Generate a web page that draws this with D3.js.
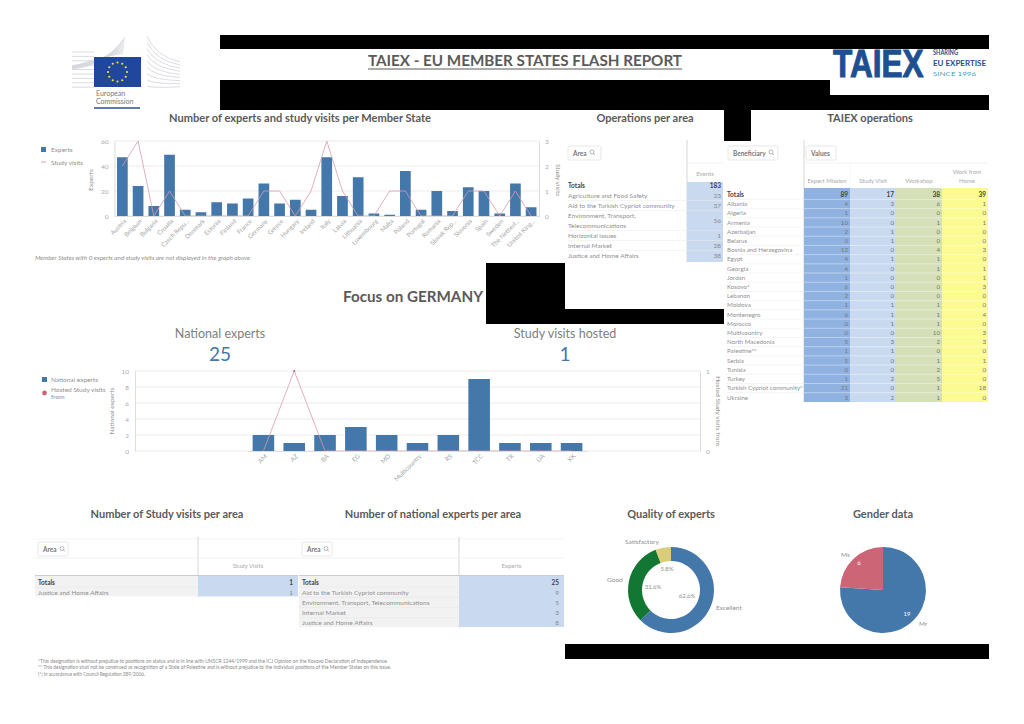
<!DOCTYPE html>
<html><head><meta charset="utf-8">
<script src="https://cdn.jsdelivr.net/npm/d3@7"></script>
<style>html,body{margin:0;background:#fff}svg{display:block}text{font-family:Lato,"Noto Sans",sans-serif}</style>
</head><body><svg id="c" width="1024" height="724"></svg>
<script>
const states=["Austria","Belgium","Bulgaria","Croatia","Czech Repu...","Denmark","Estonia","Finland","France","Germany","Greece","Hungary","Ireland","Italy","Latvia","Lithuania","Luxembourg","Malta","Poland","Portugal","Romania","Slovak Rep...","Slovenia","Spain","Sweden","The Netherl...","United King..."];
const experts=[47,24,8,49,5,3,11,10,14,26,10,13,5,47,16,31,2,1,36,5,20,4,23,20,2,26,7];
const studyVisits=[2,3,0,1,0,0,0,0,0,1,1,0,1,3,1,0,0,1,1,0,0,0,1,1,0,1,0];
const natCodes=["AM","AZ","BA","EG","MD","Multicountry","RS","TCC","TR","UA","XK"];
const natExperts=[2,1,2,3,2,1,2,9,1,1,1];
const natHosted=[0,1,0,0,0,0,0,0,0,0,0];
const areaRows=["Agriculture and Food Safety","Aid to the Turkish Cypriot community",["Environment, Transport,","Telecommunications"],"Horizontal issues","Internal Market","Justice and Home Affairs"];
const areaEvents=[23,37,56,1,28,38];
const beneficiaries=["Albania","Algeria","Armenia","Azerbaijan","Belarus","Bosnia and Herzegovina","Egypt","Georgia","Jordan","Kosovo*","Lebanon","Moldova","Montenegro","Morocco","Multicountry","North Macedonia","Palestine**","Serbia","Tunisia","Turkey","Turkish Cypriot community*","Ukraine"];
const expertMission=[4,1,10,2,0,12,4,4,1,6,2,1,6,0,0,5,1,5,0,1,21,3];
const studyVisit=[3,0,0,1,1,0,1,0,0,0,0,1,1,1,0,3,1,0,0,2,0,2];
const workshop=[6,0,1,0,0,4,1,1,0,0,0,1,1,1,10,2,0,1,2,5,1,1];
const workFromHome=[1,0,1,0,0,3,0,1,1,3,0,0,4,0,3,3,0,1,0,0,18,0];
const opColumns=["Expert Mission","Study Visit","Workshop","Work from Home"];
const opTotals=[89,17,38,39];
const svAreas=["Justice and Home Affairs"];const svValues=[1];
const neAreas=["Aid to the Turkish Cypriot community","Environment, Transport, Telecommunications","Internal Market","Justice and Home Affairs"];const neValues=[9,5,3,8];
const qualityLabels=["Excellent","Good","Satisfactory"];const qualityValues=[62.6,31.6,5.8];
const genderLabels=["Mr","Ms"];const genderValues=[19,6];
const footnotes=["*This designation is without prejudice to positions on status and is in line with UNSCR 1244/1999 and the ICJ Opinion on the Kosovo Declaration of Independence.","** This designation shall not be construed as recognition of a State of Palestine and is without prejudice to the individual positions of the Member States on this issue.","(*) In accordance with Council Regulation 389/2006."];

const BLUE="#4477aa",PINK="#cc6677",LINE="#dd9aa8",TITLE="#5a5a5a",GREY="#8a8a8a",TXT="#909090";
const svg=d3.select("#c");
const T=(x,y,s,o={})=>{const t=svg.append("text").attr("x",x).attr("y",y).text(s).attr("font-size",o.size||6.5).attr("fill",o.fill||TXT).attr("text-anchor",o.anchor||"start");if(o.bold)t.attr("font-weight",o.bold===true?700:o.bold);if(o.italic)t.attr("font-style","italic");if(o.rotate!=null)t.attr("transform",`rotate(${o.rotate} ${x} ${y})`);if(o.len)t.attr("textLength",o.len).attr("lengthAdjust","spacingAndGlyphs");return t};
const R=(x,y,w,h,f)=>svg.append("rect").attr("x",x).attr("y",y).attr("width",w).attr("height",h).attr("fill",f);
const L=(x1,y1,x2,y2,c,w=0.6)=>svg.append("line").attr("x1",x1).attr("y1",y1).attr("x2",x2).attr("y2",y2).attr("stroke",c).attr("stroke-width",w);
const title=(x,y,s,len)=>T(x,y,s,{size:11,bold:true,fill:TITLE,anchor:"middle",len});

// header
T(368,66,"TAIEX - EU MEMBER STATES FLASH REPORT",{size:15,bold:true,fill:TITLE,len:314});
L(368,69,682,69,TITLE,1);
// EC logo
const wingRows=d3.range(9);
const wing=svg.append("g").attr("fill","none").attr("stroke","#d6d8dc").attr("stroke-width",0.9);
wingRows.forEach(i=>{
 wing.append("path").attr("d",`M72 ${52+i*4.4}H94`);
 wing.append("path").attr("d",`M72 ${69-i*0.3}Q105 ${66-i*1.2} ${125-i*0.2} ${37+i*2}`);
 wing.append("path").attr("d",`M147 ${36+i*6.3}Q155 ${56+i*4} 180 ${62+i*3.1}`);
});
R(94,57,47,30,"#20479b");
d3.range(12).forEach(i=>{const a=i*Math.PI/6;svg.append("circle").attr("cx",117.5+9.5*Math.cos(a)).attr("cy",72+9.5*Math.sin(a)).attr("r",1.1).attr("fill","#f2e33d")});
T(96,96,"European",{size:7,fill:"#777"});T(96,104,"Commission",{size:7,fill:"#777"});L(94,108,140,108,"#2f4e96",1.3);
// TAIEX logo
T(0,0,"TAIEX",{size:38,bold:700,fill:"#1d4f91"}).style("font-family","'Liberation Sans'").attr("stroke","#1d4f91").attr("stroke-width",1).attr("transform","translate(833,76.5) scale(0.83,1)");
T(933,55,"SHARING",{size:6.5,bold:true,fill:"#1d4f91",len:25});
T(933,65.5,"EU EXPERTISE",{size:6.5,bold:true,fill:"#1d4f91",len:53});
T(933,75.5,"SINCE 1996",{size:6.5,fill:"#4aa3b8",len:43});

// chart 1
title(300,122,"Number of experts and study visits per Member State",262);
const x1=d3.scaleBand().domain(states).range([114.5,539]).paddingInner(0.32).paddingOuter(0.16);
const y1=d3.scaleLinear().domain([0,60]).range([216,141]);
const y1r=d3.scaleLinear().domain([0,3]).range([216,141]);
function axes(x,yl,yr,lt,rt){
 const f=d3.format("d");
 const gl=svg.append("g").attr("transform",`translate(${x.range()[0]},0)`).call(d3.axisLeft(yl).tickValues(lt).tickFormat(f).tickSize(0).tickPadding(6));
 const gr=svg.append("g").attr("transform",`translate(${x.range()[1]},0)`).call(d3.axisRight(yr).tickValues(rt).tickFormat(f).tickSize(0).tickPadding(6));
 [gl,gr].forEach(g=>{g.select(".domain").attr("stroke","#ddd");g.selectAll("text").attr("fill","#aaa").attr("font-size",6.5).style("font-family","Lato")});
 svg.append("g").selectAll("line").data(lt).join("line").attr("x1",x.range()[0]).attr("x2",x.range()[1]).attr("y1",d=>yl(d)).attr("y2",d=>yl(d)).attr("stroke","#e3e3e8").attr("stroke-width",0.7);
}
function bottom(x,y0){
 const g=svg.append("g").attr("transform",`translate(0,${y0})`).call(d3.axisBottom(x).tickSize(0).tickPadding(5));
 g.select(".domain").attr("stroke","#ddd");
 g.selectAll("text").attr("fill","#a5a5a5").attr("font-size",6.2).style("font-family","Lato").attr("text-anchor","end").attr("dx","-1").attr("dy","2").attr("transform","rotate(-45)");
}
axes(x1,y1,y1r,[0,20,40,60],[0,1,2,3]);
svg.append("g").attr("fill",BLUE).selectAll("rect").data(experts).join("rect").attr("x",(d,i)=>x1(states[i])).attr("width",x1.bandwidth()).attr("y",d=>y1(d)).attr("height",d=>y1(0)-y1(d));
const l1=d3.line().x((d,i)=>x1(states[i])+x1.bandwidth()/2).y(d=>y1r(d));
svg.append("path").attr("d",l1(studyVisits)).attr("fill","none").attr("stroke",LINE).attr("stroke-width",0.8);
bottom(x1,216);
R(41,147,5,5,BLUE);T(51,152,"Experts");L(41,162,46,162,LINE,1);T(51,164.5,"Study visits");
T(93,180,"Experts",{rotate:-90,anchor:"middle",size:6.5});T(556,180,"Study visits",{rotate:90,anchor:"middle",size:6.5});
T(35,260,"Member States with 0 experts and study visits are not displayed in the graph above",{size:5.5,italic:true,len:215});

// Focus
T(343,302,"Focus on GERMANY",{size:14.5,bold:true,fill:TITLE,len:140});
T(220,338,"National experts",{size:12.5,anchor:"middle",fill:"#808080"});T(220,361,"25",{size:19,anchor:"middle",fill:BLUE});
T(565,338,"Study visits hosted",{size:12.5,anchor:"middle",fill:"#808080"});T(565,361,"1",{size:19,anchor:"middle",fill:BLUE});
const x2frame=d3.scaleLinear().range([135,700]);
const x2=d3.scaleBand().domain(natCodes).range([248,587]).paddingInner(0.3).paddingOuter(0.15);
const y2=d3.scaleLinear().domain([0,10]).range([451,371]);const y2r=d3.scaleLinear().domain([0,1]).range([451,371]);
axes(x2frame,y2,y2r,[0,2,4,6,8,10],[0,1]);
svg.append("g").attr("fill",BLUE).selectAll("rect").data(natExperts).join("rect").attr("x",(d,i)=>x2(natCodes[i])).attr("width",x2.bandwidth()).attr("y",d=>y2(d)).attr("height",d=>y2(0)-y2(d));
const xc=i=>x2(natCodes[i])+x2.bandwidth()/2;
svg.append("path").attr("d",d3.line().x((d,i)=>xc(i)).y(d=>y2r(d))(natHosted)).attr("fill","none").attr("stroke",LINE).attr("stroke-width",0.8);
svg.append("g").selectAll("circle").data(natHosted).join("circle").attr("cx",(d,i)=>xc(i)).attr("cy",d=>y2r(d)).attr("r",1.1).attr("fill",PINK);
bottom(x2,451);
R(42,377,5,5,BLUE);T(51,382,"National experts");
svg.append("circle").attr("cx",44.5).attr("cy",393).attr("r",2.4).attr("fill",PINK);
T(51,392,"Hosted Study visits");T(51,399,"from");
T(114,411,"National experts",{rotate:-90,anchor:"middle"});T(716,411,"Hosted Study visits from",{rotate:90,anchor:"middle"});

// table helpers
const btn=(x,y,w,s)=>{svg.append("rect").attr("x",x).attr("y",y).attr("width",w).attr("height",14).attr("rx",1.5).attr("fill","#fff").attr("stroke","#ddd").attr("stroke-width",0.7);T(x+5,y+9.5,s,{size:6.5,bold:true,fill:"#777"})};
const glass=(x,y)=>{svg.append("circle").attr("cx",x).attr("cy",y).attr("r",2).attr("fill","none").attr("stroke","#888").attr("stroke-width",0.6);L(x+1.4,y+1.4,x+3,y+3,"#888",0.6)};

// Operations per area
title(645,122,"Operations per area");
btn(568,146,33,"Area");glass(592,152);
L(687,140,687,262,"#ccc",0.8);L(687,163,723,163,"#eee",0.8);T(705,176,"Events",{anchor:"middle",size:6,fill:"#aaa"});
R(687,182,36,80,"#c9daf0");
T(568,188,"Totals",{bold:true,fill:"#444"});T(721,188,d3.sum(areaEvents),{bold:true,fill:"#444",anchor:"end"});
let ay=198;
areaRows.forEach((r,i)=>{const two=Array.isArray(r);
 if(two){T(568,ay,r[0]);T(568,ay+10,r[1])}else T(568,ay,r);
 T(721,two?ay+5:ay,areaEvents[i],{anchor:"end",fill:"#888"});
 const nxt=ay+(two?20:10);if(i<areaRows.length-1)L(568,nxt-7.5,723,nxt-7.5,"#e8e8e8",0.5);ay=nxt});

// TAIEX operations
title(870,122,"TAIEX operations");
btn(728,146,50,"Beneficiary");glass(771,152);btn(806,146,30,"Values");
L(804,140,804,402,"#ccc",0.8);L(804,163,988,163,"#eee",0.8);L(850,163,850,188,"#eee",0.6);
const colX=d3.scaleBand().domain(opColumns).range([804,988]);
const colFill=["#8fb2e0","#c9daf0","#d5e0b8","#fbfb92"];
const colData=[expertMission,studyVisit,workshop,workFromHome];
const rowY=d3.scalePoint().domain(["Totals",...beneficiaries]).range([197,399.5]);
opColumns.forEach((c,j)=>{const bx=colX(c),bw=colX.bandwidth();
 R(bx,188,bw,214,colFill[j]);
 if(c==="Work from Home"){T(bx+bw/2+2,174,"Work from",{anchor:"middle",size:6,fill:"#aaa"});T(bx+bw/2+2,183,"Home",{anchor:"middle",size:6,fill:"#aaa"})}
 else T(bx+bw/2,183,c,{anchor:"middle",size:6,fill:"#aaa"});
 T(bx+bw-2,197,opTotals[j],{anchor:"end",bold:true,fill:"#444"});
 colData[j].forEach((v,i)=>T(bx+bw-2,rowY(beneficiaries[i]),v,{anchor:"end",fill:"#777",size:6.2}));
});
T(727,197,"Totals",{bold:true,fill:"#444"});
beneficiaries.forEach((b,i)=>{T(727,rowY(b),b,{size:6.2});L(726,rowY(b)-6.8,988,rowY(b)-6.8,"#fff",0.4);L(726,rowY(b)-6.8,804,rowY(b)-6.8,"#e6e6e6",0.4)});

// bottom tables
function smallTable(x0,xd,x1_,head,areas,vals,ttl,tx){
 title(tx,518,ttl);
 L(x0,539,x1_,539,"#eee",0.6);L(xd,537,xd,577+areas.length*10.2+10,"#ccc",0.8);L(x0,558,x1_,558,"#eee",0.8);L(x0,575.5,x1_,575.5,"#ccc",1);
 btn(x0+3,542,30,"Area");glass(x0+27,548.5);
 T((xd+x1_)/2,568,head,{anchor:"middle",size:6,fill:"#aaa"});
 const n=areas.length+1,rh=10.2;
 R(x0,576,xd-x0,n*rh,"#f2f2f2");R(xd,576,x1_-xd,n*rh,"#c9daf0");
 T(x0+3,584.5,"Totals",{bold:true,fill:"#444"});T(x1_-5,584.5,d3.sum(vals),{anchor:"end",bold:true,fill:"#444"});
 areas.forEach((a,i)=>{const y=584.5+(i+1)*rh;T(x0+3,y,a,{size:6.5});T(x1_-5,y,vals[i],{anchor:"end",fill:"#888"});L(x0,y-7.5,xd,y-7.5,"#e2e2e2",0.4)});
}
smallTable(35,198,298,"Study Visits",svAreas,svValues,"Number of Study visits per area",167);
smallTable(299,459,564,"Experts",neAreas,neValues,"Number of national experts per area",433);

// donuts
title(671,518,"Quality of experts");title(883,518,"Gender data");
const pie=d3.pie().sort(null);
const qArc=d3.arc().innerRadius(29).outerRadius(43);
const qc=["#4477aa","#117733","#ddcc77"];
svg.append("g").attr("transform","translate(671,590)").selectAll("path").data(pie(qualityValues)).join("path").attr("d",qArc).attr("fill",(d,i)=>qc[i]);
T(667,571,"5.8%",{size:6,anchor:"middle"});T(653,589,"31.6%",{size:6,anchor:"middle"});T(687,598,"62.6%",{size:6,anchor:"middle"});
T(625,544,qualityLabels[2],{size:6.5});T(607,582,qualityLabels[1],{size:6.5});T(716,610,qualityLabels[0],{size:6.5});
const gArc=d3.arc().innerRadius(0).outerRadius(43);
svg.append("g").attr("transform","translate(883,590)").selectAll("path").data(pie(genderValues)).join("path").attr("d",gArc).attr("fill",(d,i)=>[BLUE,PINK][i]);
T(907,616,genderValues[0],{size:6,fill:"#fff",anchor:"middle"});T(859,565,genderValues[1],{size:6,fill:"#fff",anchor:"middle"});
T(919,626,genderLabels[0],{size:6.5});T(841,557,genderLabels[1],{size:6.5});

footnotes.forEach((f,i)=>T(38,663+i*6.3,f,{size:5,fill:"#888",len:[350,353,107][i]}));

// black bars
[[220,35,769,14],[220,80,610,15],[220,95,769,15],[724,110,27,31],[486,263,79,46],[486,309,238,15],[565,644,424,15]].forEach(b=>R(b[0],b[1],b[2],b[3],"#000"));
</script></body></html>
